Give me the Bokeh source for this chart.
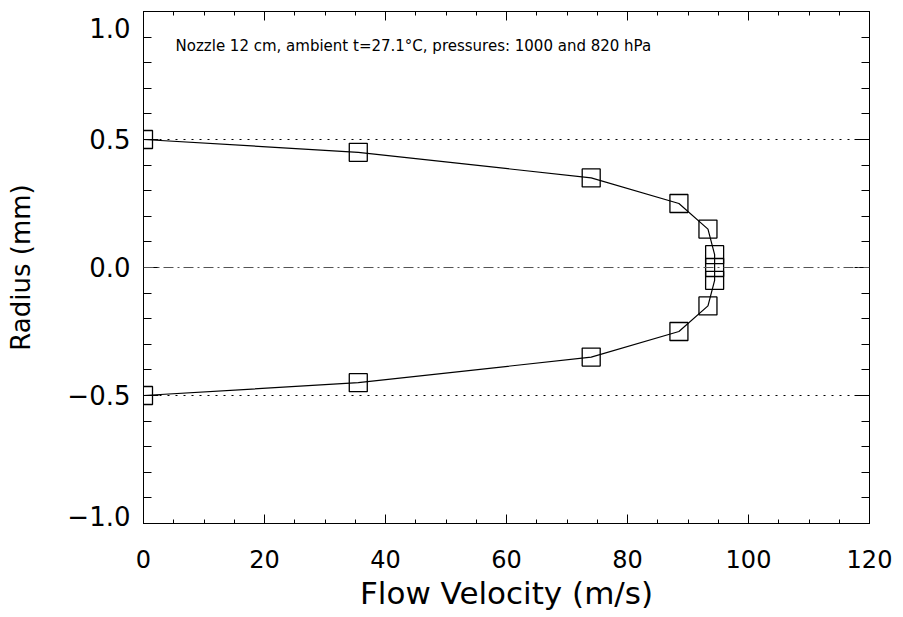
from bokeh.plotting import figure
from bokeh.models import (LinearAxis, Range1d, FixedTicker, PrintfTickFormatter,
                          Span, Label, ColumnDataSource, CustomLabelingPolicy)
from bokeh.embed import file_html
from bokeh.resources import INLINE

# ---- data ----
velocity = [0.0, 35.5, 74.0, 88.5, 93.3, 94.4, 94.4, 94.4, 93.3, 88.5, 74.0, 35.5, 0.0]
radius = [0.50, 0.45, 0.35, 0.25, 0.15, 0.05, 0.0, -0.05, -0.15, -0.25, -0.35, -0.45, -0.50]
x_ticks = [0, 20, 40, 60, 80, 100, 120]
x_minor = [v for v in range(0, 121, 5)]
y_ticks = [-1.0, -0.5, 0.0, 0.5, 1.0]
y_tick_labels = ["\u22121.0\n", "\u22120.5", "0.0", "0.5", "\n1.0"]
y_minor = [round(-1.0 + 0.1 * i, 1) for i in range(21)]
edge_levels = [0.5, -0.5]
axis_level = 0.0
note = "Nozzle 12 cm, ambient t=27.1\u00b0C, pressures: 1000 and 820 hPa"
note_pos = (5.3, 0.865)

FONT = "DejaVu Sans"

p = figure(width=903, height=617, output_backend="svg", toolbar_location=None,
           x_range=Range1d(0, 120), y_range=Range1d(-1.0, 1.0),
           min_border_left=143, min_border_right=34, min_border_top=10,
           min_border_bottom=94, x_axis_label="Flow Velocity (m/s)",
           y_axis_label="Radius (mm)")
p.background_fill_color = "white"
p.border_fill_color = "white"
p.outline_line_color = "black"
p.outline_line_width = 1
p.xgrid.visible = False
p.ygrid.visible = False

hide_all = CustomLabelingPolicy(code="""
for (const i of Array.from(indices)) indices.unset(i)
return indices
""")

def style_x(ax, labels=True):
    ax.ticker = FixedTicker(ticks=x_ticks, minor_ticks=x_minor)
    ax.major_tick_in = 9
    ax.major_tick_out = 0
    ax.minor_tick_in = 4
    ax.minor_tick_out = 0
    ax.axis_line_color = "black"
    ax.major_tick_line_color = "black"
    ax.minor_tick_line_color = "black"
    if labels:
        ax.major_label_text_font = FONT
        ax.major_label_text_font_size = "24px"
        ax.major_label_text_color = "black"
        ax.major_label_standoff = 26
    else:
        ax.major_label_policy = hide_all
        ax.major_label_standoff = 0

def style_y(ax, labels=True):
    ax.ticker = FixedTicker(ticks=y_ticks, minor_ticks=y_minor)
    ax.major_tick_in = 15
    ax.major_tick_out = 0
    ax.minor_tick_in = 8
    ax.minor_tick_out = 0
    ax.axis_line_color = "black"
    ax.major_tick_line_color = "black"
    ax.minor_tick_line_color = "black"
    ax.formatter = PrintfTickFormatter(format="%.1f")
    if labels:
        ax.major_label_overrides = {t: s for t, s in zip(y_ticks, y_tick_labels)}
        ax.major_label_text_font = FONT
        ax.major_label_text_font_size = "26px"
        ax.major_label_text_color = "black"
        ax.major_label_text_line_height = 0.45
        ax.major_label_standoff = 13
    else:
        ax.major_label_policy = hide_all
        ax.major_label_standoff = 0

xa = p.xaxis[0]
style_x(xa)
xa.axis_label_text_font = FONT
xa.axis_label_text_font_size = "31px"
xa.axis_label_text_font_style = "normal"
xa.axis_label_text_color = "black"
xa.axis_label_standoff = 4

ya = p.yaxis[0]
style_y(ya)
ya.axis_label_text_font = FONT
ya.axis_label_text_font_size = "26px"
ya.axis_label_text_font_style = "normal"
ya.axis_label_text_color = "black"
ya.axis_label_standoff = 28

top = LinearAxis()
style_x(top, labels=False)
p.add_layout(top, "above")
right = LinearAxis()
style_y(right, labels=False)
p.add_layout(right, "right")

for lev in edge_levels:
    p.add_layout(Span(location=lev, dimension="width", line_color="black",
                      line_width=1, line_dash="2 6"))
p.add_layout(Span(location=axis_level, dimension="width", line_color="#555555",
                  line_width=1.2, line_dash="10 4 2 4"))

src = ColumnDataSource(dict(v=velocity, r=radius))
p.line("v", "r", source=src, line_color="black", line_width=1.2)
p.scatter("v", "r", source=src, marker="square", size=18, fill_color=None,
          line_color="black", line_width=1.3)

p.add_layout(Label(x=note_pos[0], y=note_pos[1], text=note, text_font=FONT,
                   text_font_size="15px", text_color="black",
                   text_baseline="middle"))

open("out.html", "w").write(file_html(p, INLINE))
